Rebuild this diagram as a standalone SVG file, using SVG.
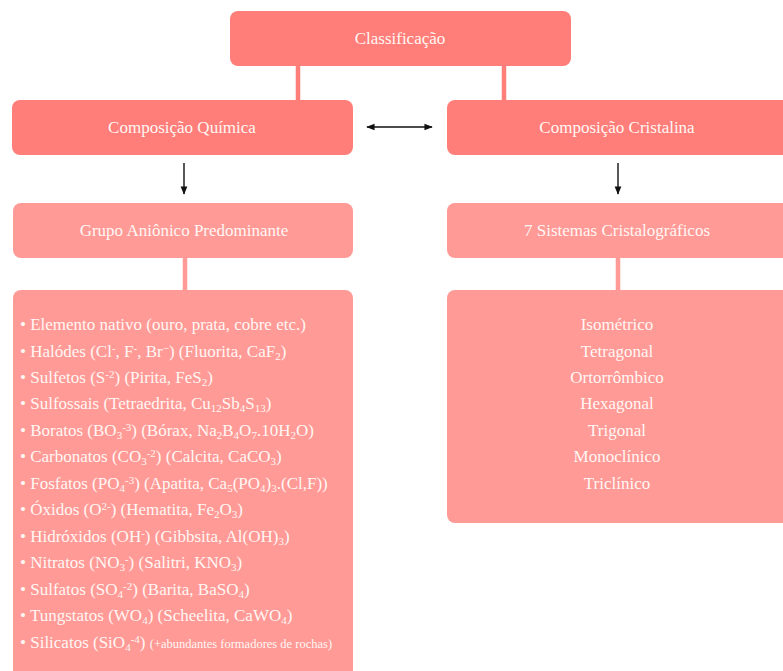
<svg xmlns="http://www.w3.org/2000/svg" width="783" height="671" viewBox="0 0 783 671">
  <style>
    .n1 { fill: #ff7e79; }
    .n2 { fill: #ff9a96; }
    .bar1 { stroke: #ff7e79; stroke-width: 4.5; fill: none; }
    .bar2 { stroke: #ff9a96; stroke-width: 4.5; fill: none; }
    .arr { stroke: #111; stroke-width: 1.4; fill: none; }
    text { font-family: "Liberation Serif", "DejaVu Serif", serif; fill: #fff6f4; font-size: 17px; }
    .c { text-anchor: middle; }
    .sb { font-size: 11px; baseline-shift: -3px; }
    .sp { font-size: 11px; baseline-shift: 5px; }
    .sm { font-size: 12.5px; }
  </style>
  <defs>
    <marker id="ah" viewBox="0 0 10 10" refX="9" refY="5" markerWidth="6" markerHeight="6" orient="auto-start-reverse">
      <path d="M0,1 L10,5 L0,9 Z" fill="#111"/>
    </marker>
  </defs>

  <rect width="783" height="671" fill="#ffffff"/>

  <!-- connectors -->
  <g id="connectors">
    <line class="bar1" x1="298" y1="64" x2="298" y2="102"/>
    <line class="bar1" x1="504" y1="64" x2="504" y2="102"/>
    <line class="bar2" x1="185" y1="256" x2="185" y2="292"/>
    <line class="bar2" x1="618" y1="256" x2="618" y2="292"/>
    <line class="arr" x1="367" y1="127" x2="432" y2="127" marker-start="url(#ah)" marker-end="url(#ah)"/>
    <line class="arr" x1="184" y1="163" x2="184" y2="194" marker-end="url(#ah)"/>
    <line class="arr" x1="618" y1="163" x2="618" y2="194" marker-end="url(#ah)"/>
  </g>

  <g id="classificacao">
    <rect class="n1" x="230" y="11" width="341" height="55" rx="8"/>
    <text class="c" x="400" y="44">Classificação</text>
  </g>

  <g id="composicao-quimica">
    <rect class="n1" x="12" y="100" width="341" height="55" rx="8"/>
    <text class="c" x="182" y="133">Composição Química</text>
  </g>

  <g id="composicao-cristalina">
    <rect class="n1" x="447" y="100" width="345" height="55" rx="8"/>
    <text class="c" x="617" y="133">Composição Cristalina</text>
  </g>

  <g id="grupo-anionico">
    <rect class="n2" x="13" y="203" width="340" height="55" rx="8"/>
    <text class="c" x="184" y="236">Grupo Aniônico Predominante</text>
  </g>

  <g id="sistemas">
    <rect class="n2" x="447" y="203" width="345" height="55" rx="8"/>
    <text class="c" x="617" y="236">7 Sistemas Cristalográficos</text>
  </g>

  <g id="lista-anionica">
    <rect class="n2" x="13" y="290" width="340" height="395" rx="8"/>
    <text x="20" y="330">• Elemento nativo (ouro, prata, cobre etc.)</text>
    <text x="20" y="357">• Halódes (Cl<tspan class="sp">-</tspan>, F<tspan class="sp">-</tspan>, Br<tspan class="sp">−</tspan>) (Fluorita, CaF<tspan class="sb">2</tspan>)</text>
    <text x="20" y="383">• Sulfetos (S<tspan class="sp">-2</tspan>) (Pirita, FeS<tspan class="sb">2</tspan>)</text>
    <text x="20" y="409">• Sulfossais (Tetraedrita, Cu<tspan class="sb">12</tspan>Sb<tspan class="sb">4</tspan>S<tspan class="sb">13</tspan>)</text>
    <text x="20" y="436">• Boratos (BO<tspan class="sb">3</tspan><tspan class="sp">-3</tspan>) (Bórax, Na<tspan class="sb">2</tspan>B<tspan class="sb">4</tspan>O<tspan class="sb">7</tspan>.10H<tspan class="sb">2</tspan>O)</text>
    <text x="20" y="462">• Carbonatos (CO<tspan class="sb">3</tspan><tspan class="sp">-2</tspan>) (Calcita, CaCO<tspan class="sb">3</tspan>)</text>
    <text x="20" y="489">• Fosfatos (PO<tspan class="sb">4</tspan><tspan class="sp">-3</tspan>) (Apatita, Ca<tspan class="sb">5</tspan>(PO<tspan class="sb">4</tspan>)<tspan class="sb">3</tspan>.(Cl,F))</text>
    <text x="20" y="515">• Óxidos (O<tspan class="sp">2-</tspan>) (Hematita, Fe<tspan class="sb">2</tspan>O<tspan class="sb">3</tspan>)</text>
    <text x="20" y="542">• Hidróxidos (OH<tspan class="sp">-</tspan>) (Gibbsita, Al(OH)<tspan class="sb">3</tspan>)</text>
    <text x="20" y="568">• Nitratos (NO<tspan class="sb">3</tspan><tspan class="sp">-</tspan>) (Salitri, KNO<tspan class="sb">3</tspan>)</text>
    <text x="20" y="595">• Sulfatos (SO<tspan class="sb">4</tspan><tspan class="sp">-2</tspan>) (Barita, BaSO<tspan class="sb">4</tspan>)</text>
    <text x="20" y="621">• Tungstatos (WO<tspan class="sb">4</tspan>) (Scheelita, CaWO<tspan class="sb">4</tspan>)</text>
    <text x="20" y="648">• Silicatos (SiO<tspan class="sb">4</tspan><tspan class="sp">-4</tspan>) <tspan class="sm">(+abundantes formadores de rochas)</tspan></text>
  </g>

  <g id="lista-sistemas">
    <rect class="n2" x="447" y="290" width="345" height="233" rx="8"/>
    <text class="c" x="617" y="330">Isométrico</text>
    <text class="c" x="617" y="357">Tetragonal</text>
    <text class="c" x="617" y="383">Ortorrômbico</text>
    <text class="c" x="617" y="409">Hexagonal</text>
    <text class="c" x="617" y="436">Trigonal</text>
    <text class="c" x="617" y="462">Monoclínico</text>
    <text class="c" x="617" y="489">Triclínico</text>
  </g>
</svg>
